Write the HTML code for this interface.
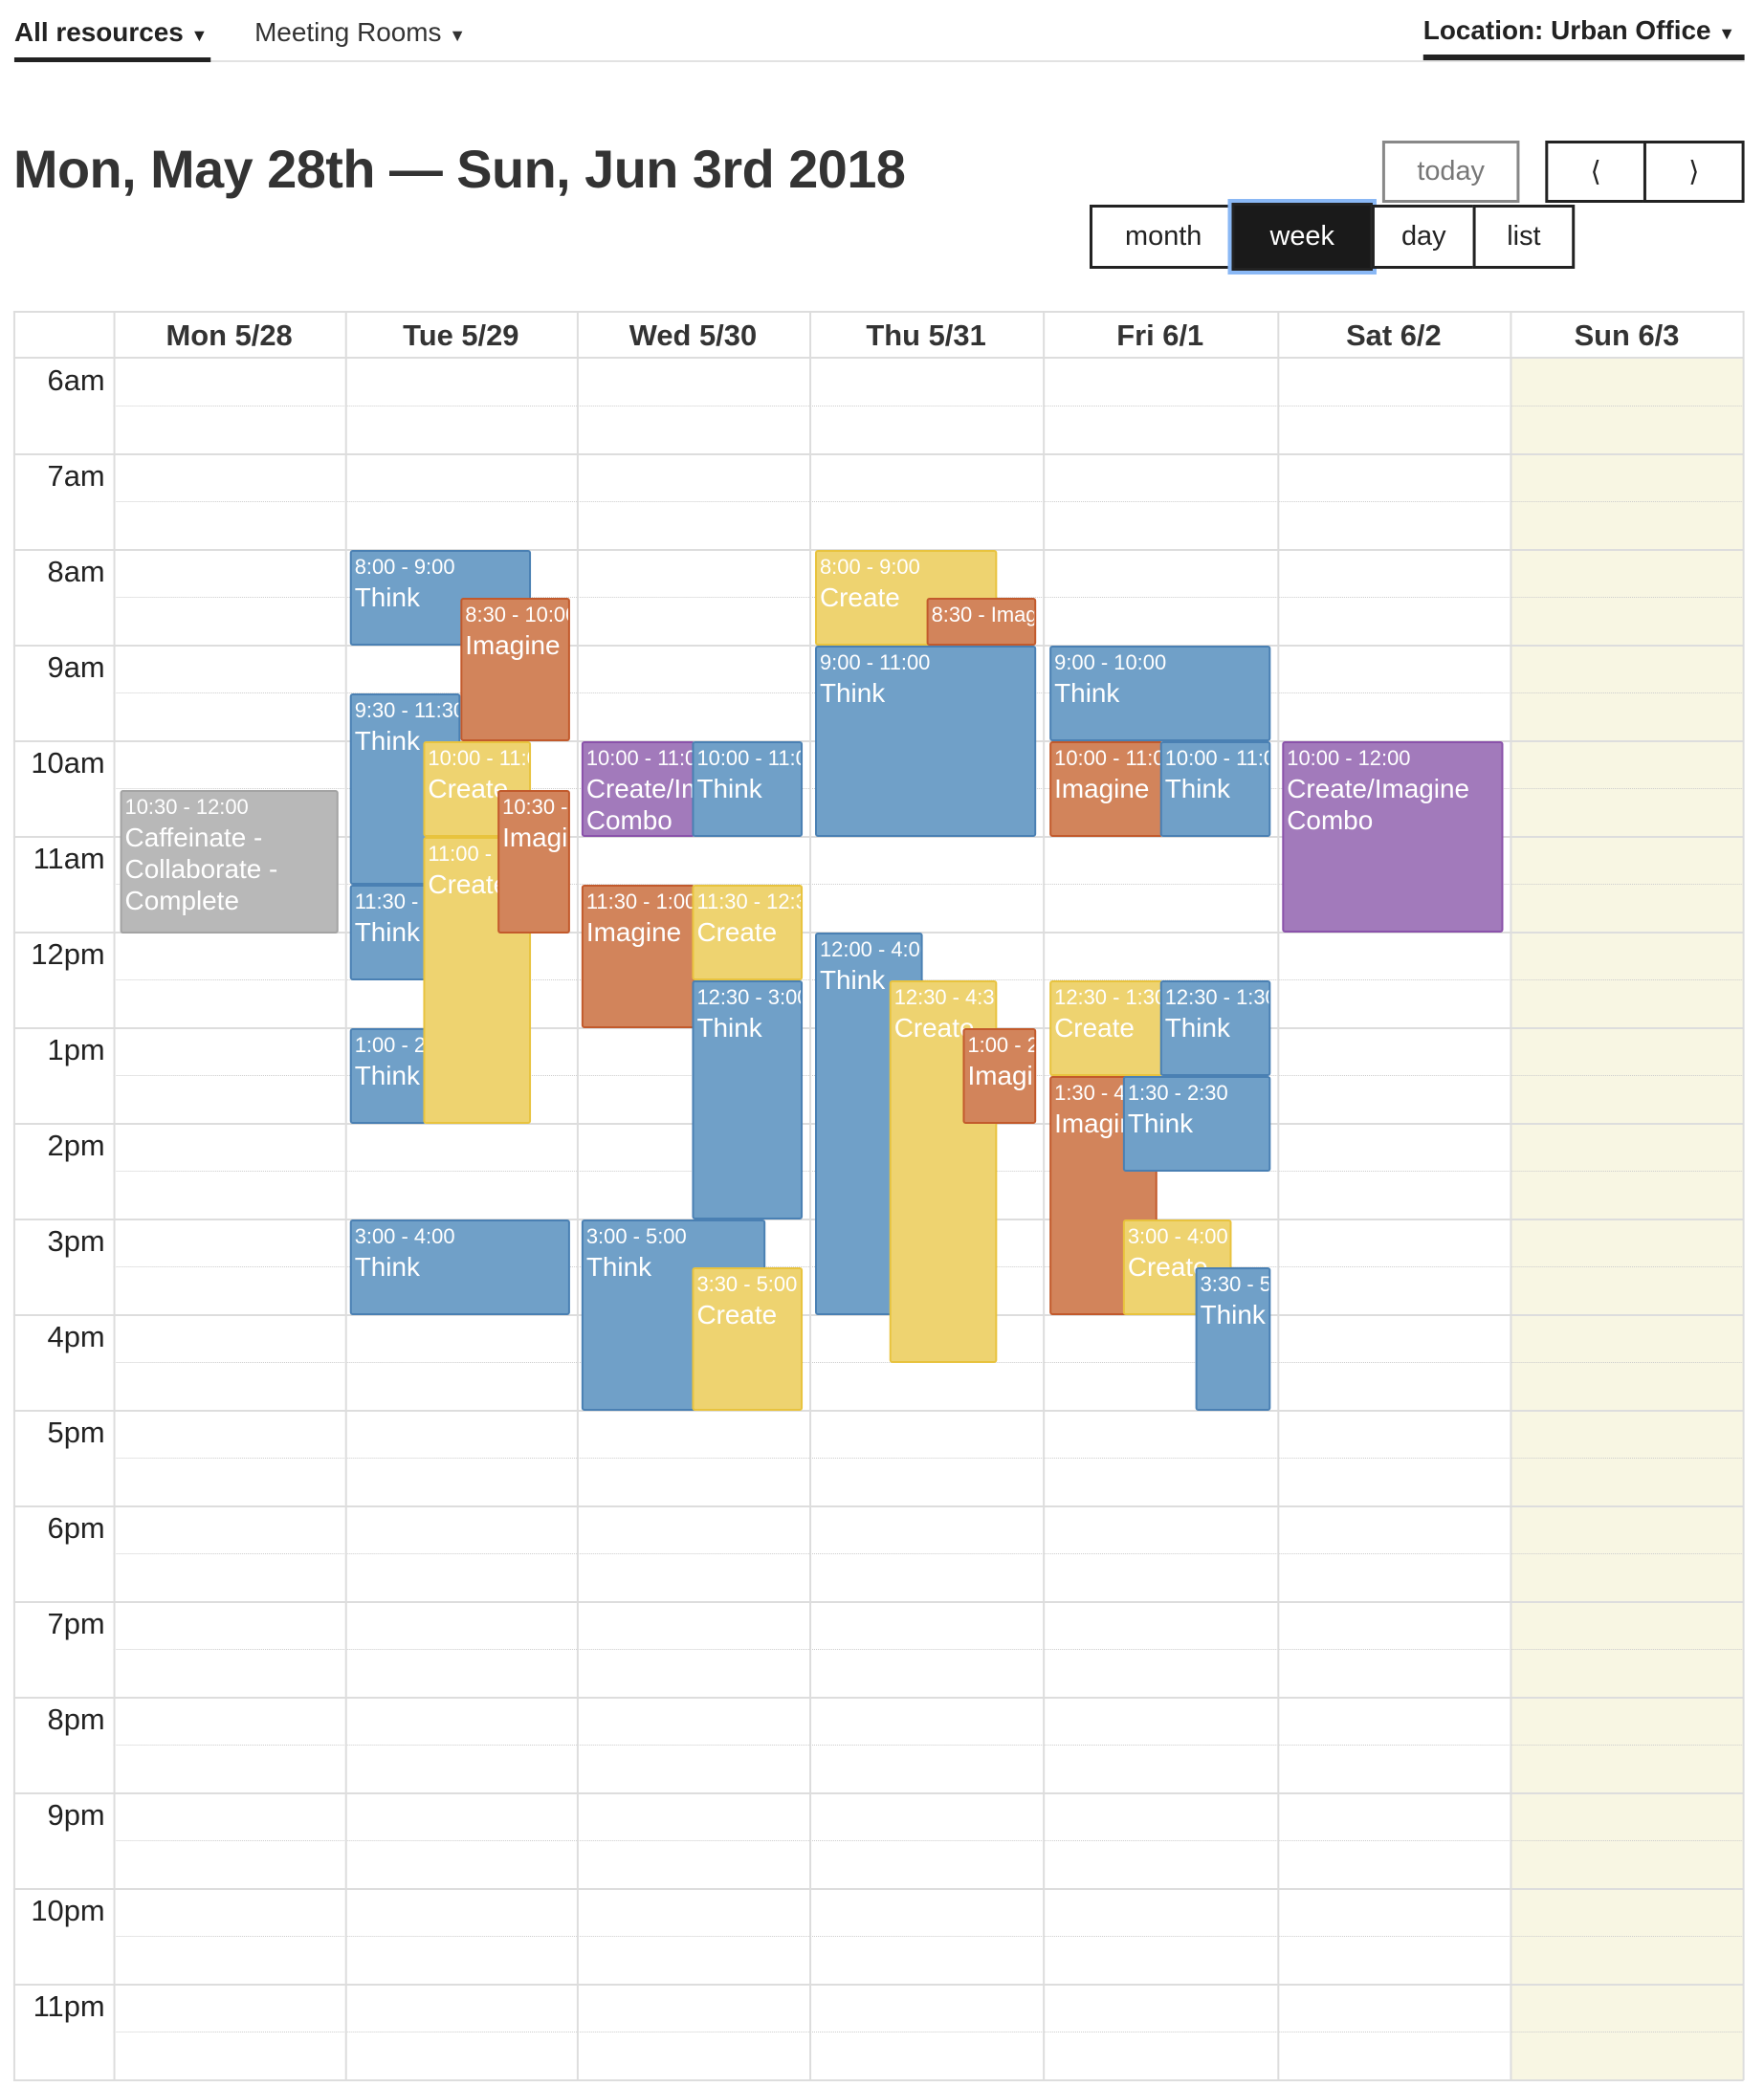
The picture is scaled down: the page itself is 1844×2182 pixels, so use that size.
<!DOCTYPE html>
<html><head><meta charset="utf-8"><style>
*{box-sizing:border-box;margin:0;padding:0}
body{width:1844px;height:2182px;background:#fff;font-family:"Liberation Sans",sans-serif;color:#222;position:relative;overflow:hidden}
#w{position:absolute;left:0;top:0;width:1844px;height:2182px;transform:scale(0.9965,1);transform-origin:0 0}
.abs{position:absolute}
.nav{font-size:28px;top:18px}
.btn{position:absolute;border:3px solid #222;font-size:29px;display:flex;align-items:center;justify-content:center;background:#fff}
.ev{position:absolute;border:2px solid;border-radius:3px;color:#fff;overflow:hidden;padding:1px 3px;line-height:33px}
.ev .t{font-size:22px;white-space:nowrap;line-height:30px}
.ev .n{font-size:28px}
.b{background:#70a0c8;border-color:#4a80b3}
.o{background:#d2845b;border-color:#c25a2c}
.y{background:#eed370;border-color:#e8c33e}
.p{background:#a27abb;border-color:#8a52aa}
.g{background:#b8b8b8;border-color:#a3a3a3}
.hl{position:absolute;left:14px;width:1815px;height:0;border-top:2px solid #ddd}
.dl{position:absolute;left:119px;width:1710px;height:0;border-top:1.5px dotted #ccc}
.vl{position:absolute;top:325px;height:1850px;border-left:2px solid #ddd}
.tl{position:absolute;left:14px;width:96px;text-align:right;font-size:31px;color:#222}
.dh{position:absolute;top:325px;height:49px;font-size:31px;font-weight:bold;text-align:center;line-height:52px;color:#333}
</style></head><body><div id="w">
<div class="abs nav" style="left:15px;font-weight:bold">All resources <span style="font-size:18px">▼</span></div>
<div class="abs nav" style="left:267px;color:#333">Meeting Rooms <span style="font-size:18px">▼</span></div>
<div class="abs nav" style="left:1493px;font-weight:bold;top:16px">Location: Urban Office <span style="font-size:18px">▼</span></div>
<div class="abs" style="left:15px;top:63px;width:1815px;height:2px;background:#e2e2e2"></div>
<div class="abs" style="left:15px;top:60px;width:206px;height:5px;background:#222"></div>
<div class="abs" style="left:1493px;top:57px;width:337px;height:6px;background:#222"></div>
<div class="abs" style="left:14px;top:144px;font-size:56px;font-weight:bold;color:#333;letter-spacing:-0.5px">Mon, May 28th — Sun, Jun 3rd 2018</div>
<div class="btn" style="left:1450px;top:147px;width:144px;height:65px;border-color:#888;color:#777">today</div>
<div class="btn" style="left:1621px;top:147px;width:106px;height:65px">&#10216;</div>
<div class="btn" style="left:1724px;top:147px;width:106px;height:65px">&#10217;</div>
<div class="btn" style="left:1143px;top:214px;width:155px;height:67px">month</div>
<div class="btn" style="left:1292px;top:212px;width:148px;height:71px;background:#1a1a1a;color:#fff;outline:4px solid #8ab8f5">week</div>
<div class="btn" style="left:1439px;top:214px;width:109px;height:67px">day</div>
<div class="btn" style="left:1545px;top:214px;width:107px;height:67px">list</div>

<div class="abs" style="left:1584px;top:374px;width:245px;height:1800px;background:#f8f6e3"></div>
<div class="hl" style="top:325px"></div>
<div class="hl" style="top:373px"></div>
<div class="hl" style="top:474px"></div><div class="hl" style="top:574px"></div><div class="hl" style="top:674px"></div><div class="hl" style="top:774px"></div><div class="hl" style="top:874px"></div><div class="hl" style="top:974px"></div><div class="hl" style="top:1074px"></div><div class="hl" style="top:1174px"></div><div class="hl" style="top:1274px"></div><div class="hl" style="top:1374px"></div><div class="hl" style="top:1474px"></div><div class="hl" style="top:1574px"></div><div class="hl" style="top:1674px"></div><div class="hl" style="top:1774px"></div><div class="hl" style="top:1874px"></div><div class="hl" style="top:1974px"></div><div class="hl" style="top:2074px"></div><div class="hl" style="top:2174px"></div>
<div class="dl" style="top:424px"></div><div class="dl" style="top:524px"></div><div class="dl" style="top:624px"></div><div class="dl" style="top:724px"></div><div class="dl" style="top:824px"></div><div class="dl" style="top:924px"></div><div class="dl" style="top:1024px"></div><div class="dl" style="top:1124px"></div><div class="dl" style="top:1224px"></div><div class="dl" style="top:1324px"></div><div class="dl" style="top:1424px"></div><div class="dl" style="top:1524px"></div><div class="dl" style="top:1624px"></div><div class="dl" style="top:1724px"></div><div class="dl" style="top:1824px"></div><div class="dl" style="top:1924px"></div><div class="dl" style="top:2024px"></div><div class="dl" style="top:2124px"></div>
<div class="vl" style="left:14px"></div><div class="vl" style="left:119px"></div><div class="vl" style="left:362px"></div><div class="vl" style="left:605px"></div><div class="vl" style="left:849px"></div><div class="vl" style="left:1094px"></div><div class="vl" style="left:1340px"></div><div class="vl" style="left:1584px"></div><div class="vl" style="left:1828px"></div>

<div class="dh" style="left:119px;width:243px">Mon 5/28</div>
<div class="dh" style="left:362px;width:243px">Tue 5/29</div>
<div class="dh" style="left:605px;width:244px">Wed 5/30</div>
<div class="dh" style="left:849px;width:245px">Thu 5/31</div>
<div class="dh" style="left:1094px;width:246px">Fri 6/1</div>
<div class="dh" style="left:1340px;width:244px">Sat 6/2</div>
<div class="dh" style="left:1584px;width:245px">Sun 6/3</div>

<div class="tl" style="top:380px">6am</div><div class="tl" style="top:480px">7am</div><div class="tl" style="top:580px">8am</div><div class="tl" style="top:680px">9am</div><div class="tl" style="top:780px">10am</div><div class="tl" style="top:880px">11am</div><div class="tl" style="top:980px">12pm</div><div class="tl" style="top:1080px">1pm</div><div class="tl" style="top:1180px">2pm</div><div class="tl" style="top:1280px">3pm</div><div class="tl" style="top:1380px">4pm</div><div class="tl" style="top:1480px">5pm</div><div class="tl" style="top:1580px">6pm</div><div class="tl" style="top:1680px">7pm</div><div class="tl" style="top:1780px">8pm</div><div class="tl" style="top:1880px">9pm</div><div class="tl" style="top:1980px">10pm</div><div class="tl" style="top:2080px">11pm</div>

<div class="ev g" style="left:126px;top:826px;width:229px;height:150px"><div class="t">10:30 - 12:00</div><div class="n">Caffeinate - Collaborate - Complete</div></div>
<div class="ev b" style="left:367px;top:575px;width:190px;height:100px"><div class="t">8:00 - 9:00</div><div class="n">Think</div></div>
<div class="ev o" style="left:483px;top:625px;width:115px;height:150px"><div class="t">8:30 - 10:00</div><div class="n">Imagine</div></div>
<div class="ev b" style="left:367px;top:725px;width:116px;height:200px"><div class="t">9:30 - 11:30</div><div class="n">Think</div></div>
<div class="ev b" style="left:367px;top:925px;width:80px;height:100px"><div class="t">11:30 - 12:30</div><div class="n">Think</div></div>
<div class="ev b" style="left:367px;top:1075px;width:80px;height:100px"><div class="t">1:00 - 2:00</div><div class="n">Think</div></div>
<div class="ev y" style="left:444px;top:775px;width:113px;height:100px"><div class="t">10:00 - 11:00</div><div class="n">Create</div></div>
<div class="ev y" style="left:444px;top:875px;width:113px;height:300px"><div class="t">11:00 - 2:00</div><div class="n">Create</div></div>
<div class="ev o" style="left:522px;top:826px;width:76px;height:150px"><div class="t">10:30 - 12:00</div><div class="n">Imagine</div></div>
<div class="ev b" style="left:367px;top:1275px;width:231px;height:100px"><div class="t">3:00 - 4:00</div><div class="n">Think</div></div>
<div class="ev p" style="left:610px;top:775px;width:119px;height:100px"><div class="t">10:00 - 11:00</div><div class="n">Create/Imagine Combo</div></div>
<div class="ev b" style="left:726px;top:775px;width:116px;height:100px"><div class="t">10:00 - 11:00</div><div class="n">Think</div></div>
<div class="ev o" style="left:610px;top:925px;width:119px;height:150px"><div class="t">11:30 - 1:00</div><div class="n">Imagine</div></div>
<div class="ev y" style="left:726px;top:925px;width:116px;height:100px"><div class="t">11:30 - 12:30</div><div class="n">Create</div></div>
<div class="ev b" style="left:726px;top:1025px;width:116px;height:250px"><div class="t">12:30 - 3:00</div><div class="n">Think</div></div>
<div class="ev b" style="left:610px;top:1275px;width:193px;height:200px"><div class="t">3:00 - 5:00</div><div class="n">Think</div></div>
<div class="ev y" style="left:726px;top:1325px;width:116px;height:150px"><div class="t">3:30 - 5:00</div><div class="n">Create</div></div>
<div class="ev y" style="left:855px;top:575px;width:191px;height:100px"><div class="t">8:00 - 9:00</div><div class="n">Create</div></div>
<div class="ev o" style="left:972px;top:625px;width:115px;height:50px"><div class="t">8:30 - Imagine</div></div>
<div class="ev b" style="left:855px;top:675px;width:232px;height:200px"><div class="t">9:00 - 11:00</div><div class="n">Think</div></div>
<div class="ev b" style="left:855px;top:975px;width:113px;height:400px"><div class="t">12:00 - 4:00</div><div class="n">Think</div></div>
<div class="ev y" style="left:933px;top:1025px;width:113px;height:400px"><div class="t">12:30 - 4:30</div><div class="n">Create</div></div>
<div class="ev o" style="left:1010px;top:1075px;width:77px;height:100px"><div class="t">1:00 - 2:00</div><div class="n">Imagine</div></div>
<div class="ev b" style="left:1101px;top:675px;width:232px;height:100px"><div class="t">9:00 - 10:00</div><div class="n">Think</div></div>
<div class="ev o" style="left:1101px;top:775px;width:119px;height:100px"><div class="t">10:00 - 11:00</div><div class="n">Imagine</div></div>
<div class="ev b" style="left:1217px;top:775px;width:116px;height:100px"><div class="t">10:00 - 11:00</div><div class="n">Think</div></div>
<div class="ev y" style="left:1101px;top:1025px;width:119px;height:100px"><div class="t">12:30 - 1:30</div><div class="n">Create</div></div>
<div class="ev b" style="left:1217px;top:1025px;width:116px;height:100px"><div class="t">12:30 - 1:30</div><div class="n">Think</div></div>
<div class="ev o" style="left:1101px;top:1125px;width:113px;height:250px"><div class="t">1:30 - 4:00</div><div class="n">Imagine</div></div>
<div class="ev b" style="left:1178px;top:1125px;width:155px;height:100px"><div class="t">1:30 - 2:30</div><div class="n">Think</div></div>
<div class="ev y" style="left:1178px;top:1275px;width:114px;height:100px"><div class="t">3:00 - 4:00</div><div class="n">Create</div></div>
<div class="ev b" style="left:1254px;top:1325px;width:79px;height:150px"><div class="t">3:30 - 5:00</div><div class="n">Think</div></div>
<div class="ev p" style="left:1345px;top:775px;width:232px;height:200px"><div class="t">10:00 - 12:00</div><div class="n">Create/Imagine Combo</div></div>
</div></body></html>
